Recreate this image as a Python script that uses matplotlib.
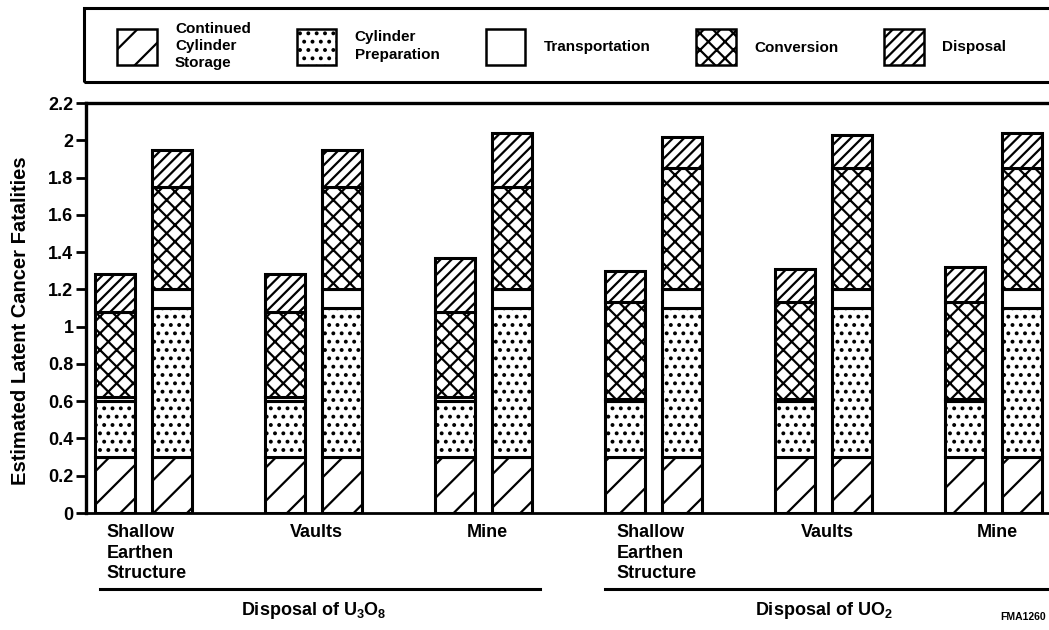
import numpy as np
import matplotlib
matplotlib.use("Agg")
from matplotlib import pyplot as plt
from matplotlib.patches import Patch, Rectangle

plt.rcParams['font.family'] = ['Liberation Sans', 'DejaVu Sans']
plt.rcParams['font.weight'] = 'bold'
plt.rcParams['mathtext.fontset'] = 'custom'
plt.rcParams['mathtext.rm'] = 'Liberation Sans:bold'
plt.rcParams['mathtext.it'] = 'Liberation Sans:bold'
plt.rcParams['hatch.linewidth'] = 1.6

# data, 12 bars: 6 sites x 2 options
sites = ["Shallow\nEarthen\nStructure", "Vaults", "Mine",
         "Shallow\nEarthen\nStructure", "Vaults", "Mine"]
groups = [r"Disposal of U$_3$O$_8$", r"Disposal of UO$_2$"]
storage = [0.30, 0.30, 0.30, 0.30, 0.30, 0.30, 0.30, 0.30, 0.30, 0.30, 0.30, 0.30]
preparation = [0.30, 0.80, 0.30, 0.80, 0.30, 0.80, 0.30, 0.80, 0.30, 0.80, 0.30, 0.80]
transportation = [0.02, 0.10, 0.02, 0.10, 0.02, 0.10, 0.01, 0.10, 0.01, 0.10, 0.01, 0.10]
conversion = [0.46, 0.55, 0.46, 0.55, 0.46, 0.55, 0.52, 0.65, 0.52, 0.65, 0.52, 0.65]
disposal = [0.20, 0.20, 0.20, 0.20, 0.29, 0.29, 0.17, 0.17, 0.18, 0.18, 0.19, 0.19]
yticks = [0, 0.2, 0.4, 0.6, 0.8, 1, 1.2, 1.4, 1.6, 1.8, 2, 2.2]
ytick_labels = ["0", "0.2", "0.4", "0.6", "0.8", "1", "1.2", "1.4", "1.6", "1.8", "2", "2.2"]

components = [
    ("Continued\nCylinder\nStorage", storage, "/"),
    ("Cylinder\nPreparation", preparation, ".."),
    ("Transportation", transportation, ""),
    ("Conversion", conversion, "xx"),
    ("Disposal", disposal, "///"),
]

W, H = 1049, 630
fig = plt.figure(figsize=(W / 100, H / 100), dpi=100)
ax = fig.add_axes([86 / W, 1 - 513 / H, (1065 - 86) / W, 410 / H])

centers = np.arange(len(sites))
offset = 0.168
bar_w = 0.24
xpos = np.repeat(centers, 2) + np.tile([-offset, offset], len(sites))

bottom = np.zeros(len(xpos))
handles = []
for label, vals, hatch in components:
    vals = np.array(vals)
    ax.bar(xpos, vals, bottom=bottom, width=bar_w, color="white",
           edgecolor="black", hatch=hatch, linewidth=2.2, zorder=3)
    bottom = bottom + vals
    handles.append(Patch(facecolor="white", edgecolor="black", hatch=hatch,
                         linewidth=1.8, label=label))

ax.set_xlim(-0.338, (1065 - 143.5) / 170)
ax.set_ylim(0, 2.2)
ax.set_yticks(yticks)
ax.set_yticklabels(ytick_labels, fontsize=13, fontweight="bold")
ax.set_xticks([])
ax.tick_params(axis="y", direction="out", length=7, width=2, pad=2)
ax.spines["right"].set_visible(False)
ax.spines["left"].set_linewidth(2.4)
ax.spines["top"].set_linewidth(2.4)
ax.spines["bottom"].set_linewidth(2.0)

ax.set_ylabel("Estimated Latent Cancer Fatalities", fontsize=14.5, fontweight="bold")
ax.yaxis.set_label_coords(-0.057, 0.47)

# site labels under the bars
xt = ax.get_xaxis_transform()
for i, name in enumerate(sites):
    if "\n" in name:
        ax.text(centers[i] - 0.215, -0.028, name, transform=xt, ha="left", va="top",
                fontsize=13, fontweight="bold", linespacing=1.25)
    else:
        ax.text(centers[i] + 0.02, -0.028, name, transform=xt, ha="center", va="top",
                fontsize=13, fontweight="bold")

# group underlines and group titles
for g, title in enumerate(groups):
    first = centers[3 * g]
    last = centers[3 * g + 2]
    ax.plot([first - 0.256 - 0.03 * g, last + 0.33], [-0.185, -0.185], transform=xt,
            color="black", linewidth=2.2, clip_on=False)
    ax.text(centers[3 * g + 1], -0.237, title, transform=xt, ha="center", va="center",
            fontsize=13, fontweight="bold")

# legend box across the top
fig.patches.append(Rectangle((84 / W, 1 - 82 / H), 1.0, 74 / H, transform=fig.transFigure,
                             fill=False, edgecolor="black", linewidth=2.2))
leg = fig.legend(handles=handles, loc="center left", ncol=5,
                 bbox_to_anchor=(117 / W, 1 - 46 / H),
                 fontsize=11, handlelength=2.6, handleheight=3.3, handletextpad=1.2,
                 columnspacing=3.0, borderpad=0, borderaxespad=0, frameon=False)
for t in leg.get_texts():
    t.set_linespacing(1.3)
    t.set_multialignment("left")

fig.text(1000 / W, 1 - 617 / H, "FMA1260", fontsize=7.5, fontweight="bold",
         ha="left", va="center")

fig.savefig("out.png", dpi=100)
